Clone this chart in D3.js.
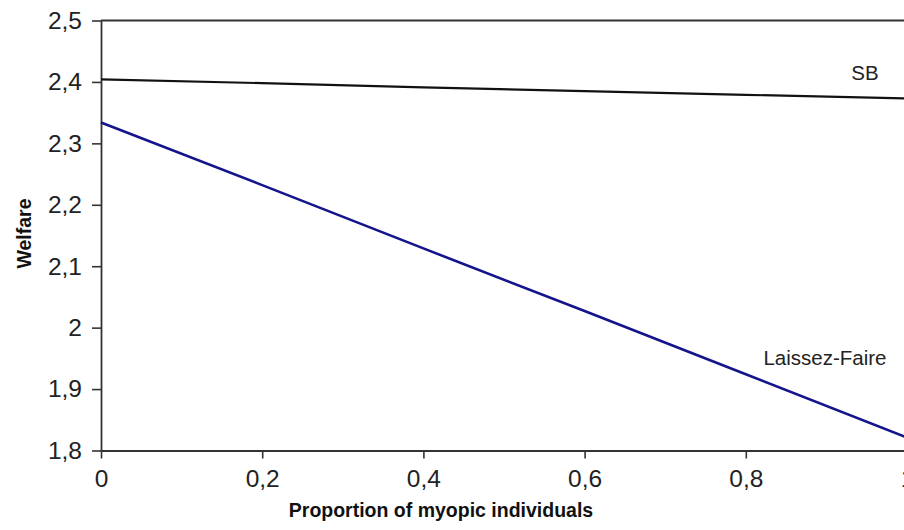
<!DOCTYPE html>
<html>
<head>
<meta charset="utf-8">
<script src="https://cdn.jsdelivr.net/npm/d3@7"></script>
<style>
  html, body { margin: 0; padding: 0; background: #fff; }
  svg { display: block; }
</style>
</head>
<body>
<svg id="chart" width="904" height="530"></svg>
<script>
// data
var proportion = [0, 0.2, 0.4, 0.6, 0.8, 1];
var sbWelfare = [2.404, 2.398, 2.391, 2.385, 2.379, 2.373];
var lfWelfare = [2.334, 2.232, 2.129, 2.027, 1.924, 1.821];
var xTicks = [0, 0.2, 0.4, 0.6, 0.8, 1];
var yTicks = [1.8, 1.9, 2, 2.1, 2.2, 2.3, 2.4, 2.5];

var svg = d3.select("#chart");
var font = "Liberation Sans, Arial, Helvetica, sans-serif";

var x = d3.scaleLinear().domain([0, 1]).range([101, 907]);
var y = d3.scaleLinear().domain([1.8, 2.5]).range([450.5, 20.5]);

function fmt(d) {
    return String(d).replace(".", ",");
}

// top frame line
svg.append("line")
    .attr("x1", x(0)).attr("x2", 904)
    .attr("y1", y(2.5)).attr("y2", y(2.5))
    .attr("stroke", "#333").attr("stroke-width", 1.8);

var xAxis = svg.append("g")
    .attr("transform", "translate(0," + y(1.8) + ")")
    .call(d3.axisBottom(x).tickValues(xTicks).tickSize(8).tickSizeOuter(0).tickPadding(11).tickFormat(fmt));

var yAxis = svg.append("g")
    .attr("transform", "translate(" + x(0) + ",0)")
    .call(d3.axisLeft(y).tickValues(yTicks).tickSize(9).tickSizeOuter(0).tickPadding(10).tickFormat(fmt));

[xAxis, yAxis].forEach(function(a) {
    a.select(".domain").attr("stroke", "#333").attr("stroke-width", 1.8);
    a.selectAll(".tick line").attr("stroke", "#333").attr("stroke-width", 1.6);
    a.selectAll(".tick text")
        .attr("fill", "#222")
        .style("font-family", font)
        .style("font-size", "24.5px");
});

var line = d3.line()
    .x(function(d) { return x(d[0]); })
    .y(function(d) { return y(d[1]); });

svg.append("path")
    .datum(d3.zip(proportion, sbWelfare))
    .attr("fill", "none")
    .attr("stroke", "#111")
    .attr("stroke-width", 2.2)
    .attr("d", line);

svg.append("path")
    .datum(d3.zip(proportion, lfWelfare))
    .attr("fill", "none")
    .attr("stroke", "#14148c")
    .attr("stroke-width", 2.6)
    .attr("d", line);

// series labels
svg.append("text")
    .attr("x", 865).attr("y", 80)
    .attr("text-anchor", "middle")
    .style("font-family", font).style("font-size", "20.5px")
    .attr("fill", "#222")
    .text("SB");

svg.append("text")
    .attr("x", 825).attr("y", 365)
    .attr("text-anchor", "middle")
    .style("font-family", font).style("font-size", "20.5px")
    .attr("fill", "#222")
    .text("Laissez-Faire");

// axis titles
svg.append("text")
    .attr("x", 441).attr("y", 517)
    .attr("text-anchor", "middle")
    .style("font-family", font).style("font-size", "19.5px").style("font-weight", "bold")
    .attr("fill", "#111")
    .text("Proportion of myopic individuals");

svg.append("text")
    .attr("transform", "translate(31,233.5) rotate(-90)")
    .attr("text-anchor", "middle")
    .style("font-family", font).style("font-size", "19.5px").style("font-weight", "bold")
    .attr("fill", "#111")
    .text("Welfare");
</script>
</body>
</html>
